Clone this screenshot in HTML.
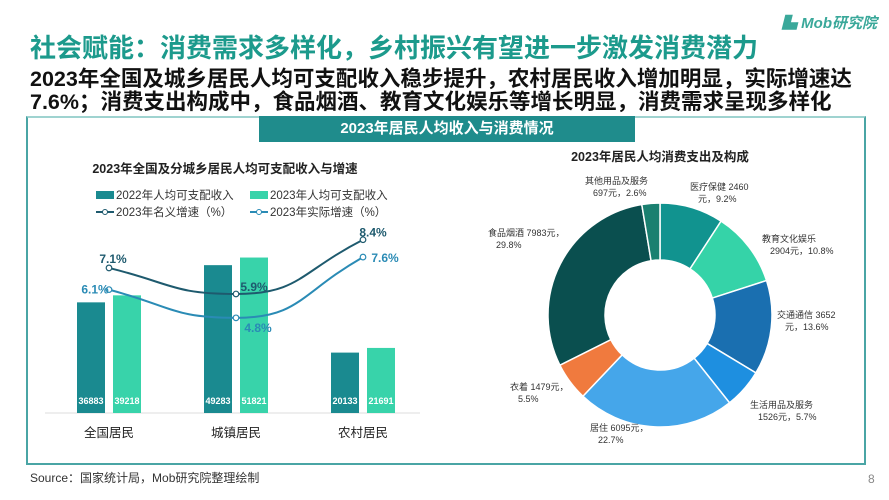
<!DOCTYPE html>
<html><head><meta charset="utf-8"><style>
body{margin:0;width:889px;height:500px;background:#fff;position:relative;overflow:hidden;font-family:"Liberation Sans","Noto Sans CJK SC",sans-serif}
.abs{position:absolute}
</style></head><body>
<div class="abs" style="left:782px;top:12px;font-size:15px;font-weight:bold;color:#3aa89a;font-style:italic">▙ Mob研究院</div>
<div class="abs" style="left:30px;top:28px;font-size:26px;font-weight:bold;color:#1c9a8c;white-space:nowrap">社会赋能：消费需求多样化，乡村振兴有望进一步激发消费潜力</div>
<div class="abs" style="left:30px;top:68px;width:840px;font-size:21.5px;line-height:23px;font-weight:bold;color:#111">2023年全国及城乡居民人均可支配收入稳步提升，农村居民收入增加明显，实际增速达7.6%；消费支出构成中，食品烟酒、教育文化娱乐等增长明显，消费需求呈现多样化</div>
<div class="abs" style="left:26px;top:116px;width:836px;height:345px;border:2px solid #4aa5a5;border-top:2px solid #9fd3d0"></div>
<div class="abs" style="left:259px;top:116px;width:376px;height:26px;background:#1f8c8c;color:#fff;font-size:15px;font-weight:bold;text-align:center;line-height:26px">2023年居民人均收入与消费情况</div>
<div class="abs" style="left:30px;top:469px;font-size:12px;color:#333">Source：国家统计局，Mob研究院整理绘制</div>
<div class="abs" style="left:868px;top:472px;font-size:12px;color:#888">8</div>
<svg class="abs" style="left:0;top:0" width="889" height="500" id="svg">
<text x="225" y="173" font-size="12.5" font-weight="bold" text-anchor="middle" fill="#222">2023年全国及分城乡居民人均可支配收入与增速</text>
<rect x="96" y="191" width="18" height="8" fill="#1a8a90"/><text x="116" y="199" font-size="11.5" fill="#333">2022年人均可支配收入</text>
<rect x="250" y="191" width="18" height="8" fill="#38d3aa"/><text x="270" y="199" font-size="11.5" fill="#333">2023年人均可支配收入</text>
<line x1="96" y1="212" x2="114" y2="212" stroke="#1e5a6e" stroke-width="2"/><circle cx="105" cy="212" r="2.5" fill="#fff" stroke="#1e5a6e"/><text x="116" y="216" font-size="11.5" fill="#333">2023年名义增速（%）</text>
<line x1="250" y1="212" x2="268" y2="212" stroke="#2a8bb5" stroke-width="2"/><circle cx="259" cy="212" r="2.5" fill="#fff" stroke="#2a8bb5"/><text x="270" y="216" font-size="11.5" fill="#333">2023年实际增速（%）</text>
<line x1="45" y1="413" x2="420" y2="413" stroke="#ddd"/>
<text x="660" y="161" font-size="12.5" font-weight="bold" text-anchor="middle" fill="#222">2023年居民人均消费支出及构成</text>
</svg>
<script>
const categories=["全国居民","城镇居民","农村居民"];
const income2022=[36883,49283,20133];
const income2023=[39218,51821,21691];
const nominalGrowth=[7.1,5.9,8.4];
const realGrowth=[6.1,4.8,7.6];
const sliceLabels=["医疗保健","教育文化娱乐","交通通信","生活用品及服务","居住","衣着","食品烟酒","其他用品及服务"];
const sliceValues=[2460,2904,3652,1526,6095,1479,7983,697];
const slicePct=[9.2,10.8,13.6,5.7,22.7,5.5,29.8,2.6];
const sliceColors=["#11938f","#35d3a8","#1a6fb0","#1e8fe0","#45a6ea","#f07a3e","#0a4f4f","#1a8070"];
const NS="http://www.w3.org/2000/svg";
const svg=document.getElementById('svg');
function mk(t,a){const e=document.createElementNS(NS,t);for(const k in a)e.setAttribute(k,a[k]);svg.appendChild(e);return e;}
const base=413;
const yBar=v=>base-v*0.003;
const xCenter=i=>109+i*127;
const yLine=v=>422-21.7*v;
categories.forEach((c,i)=>{
  const cx=xCenter(i);
  let r=mk('rect',{x:cx-32,y:yBar(income2022[i]),width:28,height:base-yBar(income2022[i]),fill:'#1a8a90'});
  
  
  r=mk('rect',{x:cx+4,y:yBar(income2023[i]),width:28,height:base-yBar(income2023[i]),fill:'#38d3aa'});
  
  
  let t=mk('text',{x:cx-18,y:base-9,'font-size':9,'font-weight':'bold',fill:'#fff','text-anchor':'middle'});t.textContent=income2022[i];
  
  
  t=mk('text',{x:cx+18,y:base-9,'font-size':9,'font-weight':'bold',fill:'#fff','text-anchor':'middle'});t.textContent=income2023[i];
  
  
  t=mk('text',{x:cx,y:437,'font-size':12.5,fill:'#222','text-anchor':'middle'});t.textContent=c;
  
  
});
function curve(vals,color,name,lblDx,lblDy){
  const pts=vals.map((v,i)=>[xCenter(i),yLine(v)]);
  let d=`M${pts[0][0]},${pts[0][1]}`;
  for(let i=1;i<pts.length;i++){const p=pts[i-1],q=pts[i];const mx=(q[0]-p[0])/2;
    d+=` C${p[0]+mx},${i==1?p[1]+(q[1]-p[1])*0.6:p[1]} ${q[0]-mx},${i==1?q[1]:q[1]+(p[1]-q[1])*0.6} ${q[0]},${q[1]}`;}
  const path=mk('path',{d:d,fill:'none',stroke:color,'stroke-width':2});
  
  
  pts.forEach((p,i)=>{
    const c=mk('circle',{cx:p[0],cy:p[1],r:2.8,fill:'#fff',stroke:color,'stroke-width':1.2});
    
    
    const t=mk('text',{x:p[0]+lblDx[i],y:p[1]+lblDy[i],'font-size':12,'font-weight':'bold',fill:color,'text-anchor':'middle'});
    t.textContent=vals[i].toFixed(1)+'%';
    
    
  });
}
curve(nominalGrowth,'#1e5a6e','nominal',[4,18,10],[-5,-3,-3]);
curve(realGrowth,'#2a8bb5','real',[-14,22,22],[4,14,5]);
const cx0=660,cy0=315,R=112,r0=55;
const total=sliceValues.reduce((a,b)=>a+b,0);
let ang=0;
const lbl=[[690,190,"医疗保健  2460","元，9.2%"],[762,242,"教育文化娱乐","2904元，10.8%"],[777,318,"交通通信  3652","元，13.6%"],[750,408,"生活用品及服务","1526元，5.7%"],[590,431,"居住  6095元，","22.7%"],[510,390,"衣着  1479元，","5.5%"],[488,236,"食品烟酒  7983元，","29.8%"],[585,184,"其他用品及服务","697元，2.6%"]];
sliceValues.forEach((v,i)=>{
  const a0=ang,a1=ang+v/total*2*Math.PI;ang=a1;
  const P=(a,rr)=>[cx0+rr*Math.sin(a),cy0-rr*Math.cos(a)];
  const [x1,y1]=P(a0,R),[x2,y2]=P(a1,R),[x3,y3]=P(a1,r0),[x4,y4]=P(a0,r0);
  const lg=(a1-a0)>Math.PI?1:0;
  const p=mk('path',{d:`M${x1},${y1} A${R},${R} 0 ${lg} 1 ${x2},${y2} L${x3},${y3} A${r0},${r0} 0 ${lg} 0 ${x4},${y4} Z`,fill:sliceColors[i],stroke:'#fff','stroke-width':1.5});
  
  
  const L=lbl[i];
  const t=mk('text',{x:L[0],y:L[1],'font-size':9,fill:'#333'});
  t.innerHTML=`<tspan x="${L[0]}">${L[2]}</tspan><tspan x="${L[0]+8}" dy="12">${L[3]}</tspan>`;
  
  
});
</script>
</body></html>
